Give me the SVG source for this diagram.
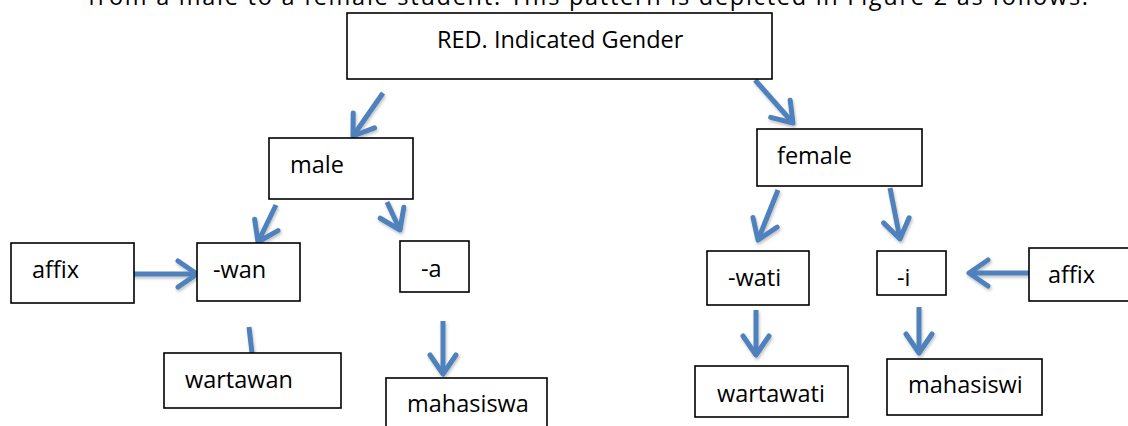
<svg xmlns="http://www.w3.org/2000/svg" width="1128" height="426" viewBox="0 0 1128 426">
<defs>
<style>
.box{fill:#fff;stroke:#000;stroke-width:1.6}
.t{font-family:"Open Sans","Liberation Sans",sans-serif;font-size:23.5px;fill:#000}
.c{fill:none;stroke:#4f81bd;stroke-width:5;stroke-linecap:butt}
</style>
<marker id="ah" viewBox="-24 -16 28 32" refX="0" refY="0" markerWidth="28" markerHeight="32" markerUnits="userSpaceOnUse" orient="auto">
<path d="M-19,-13 L0,0 L-19,13" fill="none" stroke="#4f81bd" stroke-width="5" stroke-linecap="round" stroke-linejoin="round"/>
</marker>
<filter id="sh" x="-20%" y="-20%" width="140%" height="140%">
<feDropShadow dx="1" dy="2" stdDeviation="1.5" flood-color="#000" flood-opacity="0.25"/>
</filter>
</defs>
<rect width="1128" height="426" fill="#fff"/>
<text class="t" x="88" y="5" font-size="25" textLength="1000">from a male to a female student. This pattern is depicted in Figure 2 as follows.</text>

<g id="connectors" filter="url(#sh)">
<line class="c" x1="383" y1="93" x2="353" y2="136" marker-end="url(#ah)"/>
<line class="c" x1="755" y1="80" x2="793" y2="123" marker-end="url(#ah)"/>
<line class="c" x1="276" y1="205" x2="258" y2="242" marker-end="url(#ah)"/>
<line class="c" x1="387" y1="202" x2="400" y2="230" marker-end="url(#ah)"/>
<line class="c" x1="778" y1="190" x2="758" y2="240" marker-end="url(#ah)"/>
<line class="c" x1="890" y1="188" x2="900" y2="239" marker-end="url(#ah)"/>
<line class="c" x1="125" y1="274" x2="197" y2="274" marker-end="url(#ah)"/>
<line class="c" x1="1030" y1="273" x2="969" y2="273" marker-end="url(#ah)"/>
<line class="c" x1="249" y1="327" x2="252" y2="353"/>
<line class="c" x1="443" y1="321" x2="443" y2="374" marker-end="url(#ah)"/>
<line class="c" x1="756" y1="310" x2="756" y2="355" marker-end="url(#ah)"/>
<line class="c" x1="919" y1="307" x2="919" y2="353" marker-end="url(#ah)"/>
</g>

<g id="root"><rect class="box" x="347" y="13" width="425" height="66"/><text class="t" x="437" y="48">RED. Indicated Gender</text></g>
<g id="male"><rect class="box" x="269" y="138" width="144" height="61"/><text class="t" x="290" y="173">male</text></g>
<g id="female"><rect class="box" x="757" y="129" width="165" height="57"/><text class="t" x="777" y="164">female</text></g>
<g id="affix-left"><rect class="box" x="11" y="243" width="123" height="60"/><text class="t" x="32" y="278">affix</text></g>
<g id="wan"><rect class="box" x="197" y="243" width="103" height="58"/><text class="t" x="213" y="278">-wan</text></g>
<g id="a"><rect class="box" x="400" y="241" width="69" height="51"/><text class="t" x="421" y="277">-a</text></g>
<g id="wati"><rect class="box" x="707" y="251" width="102" height="54"/><text class="t" x="728" y="286">-wati</text></g>
<g id="i"><rect class="box" x="877" y="251" width="69" height="44"/><text class="t" x="897" y="286">-i</text></g>
<g id="affix-right"><rect class="box" x="1029" y="248" width="110" height="53"/><text class="t" x="1048" y="283">affix</text></g>
<g id="wartawan"><rect class="box" x="164" y="353" width="177" height="55"/><text class="t" x="185" y="388">wartawan</text></g>
<g id="mahasiswa"><rect class="box" x="386" y="378" width="161" height="60"/><text class="t" x="407" y="412">mahasiswa</text></g>
<g id="wartawati"><rect class="box" x="695" y="366" width="153" height="51"/><text class="t" x="717" y="402">wartawati</text></g>
<g id="mahasiswi"><rect class="box" x="887" y="359" width="155" height="56"/><text class="t" x="908" y="393">mahasiswi</text></g>
</svg>
